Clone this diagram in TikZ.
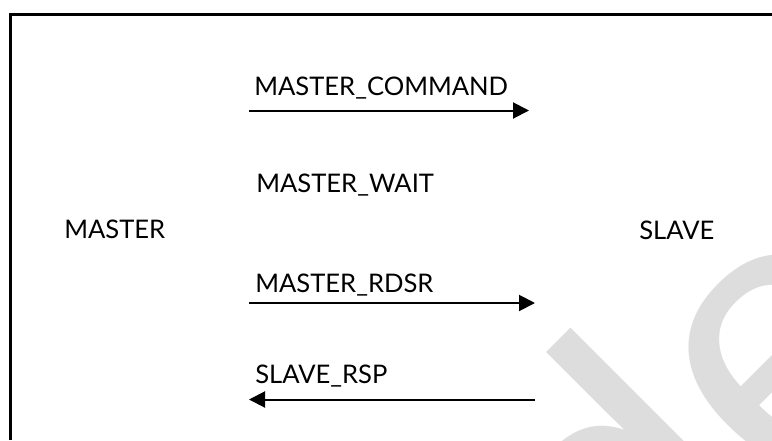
\documentclass[tikz,border=0pt]{standalone}
\usepackage{fontspec}
\setmainfont{Lato}
\newfontfamily\wmfont{Liberation Sans}
\usetikzlibrary{arrows.meta}
\definecolor{wmgray}{RGB}{221,221,221}
\tikzset{
  lbl/.style={anchor=base west, inner sep=0pt, font=\fontsize{19.2}{22}\selectfont},
  msg/.style={line width=1.5pt, -{Triangle[length=12pt,width=12pt]}},
  frame/.style={line width=2.25pt},
  wm/.style={anchor=base west, inner sep=0pt, rotate=45, text=wmgray,
    font=\wmfont\fontsize{295}{300}\selectfont},
}
\begin{document}
\begin{tikzpicture}[x=0.75pt,y=-0.75pt]
  \useasboundingbox (0,0) rectangle (772,440);
  % background watermark
  \begin{scope}
    \clip (0,0) rectangle (772,440);
    \node[wm] (mark) at (636,666) {den};
  \end{scope}
  % outer frame (open on the right and bottom)
  \draw[frame] (10,440) -- (10,14) -- (772,14);

  % participants
  \node[lbl] (master) at (64,238) {MASTER};
  \node[lbl] (slave) at (639,239) {SLAVE};

  % message labels
  \node[lbl] (cmd) at (254,95) {MASTER\_COMMAND};
  \node[lbl] (wait) at (256,192) {MASTER\_WAIT};
  \node[lbl] (rdsr) at (255,292) {MASTER\_RDSR};
  \node[lbl] (rsp) at (255,383) {SLAVE\_RSP};

  % message arrows
  \coordinate (c1s) at (249,110.5);
  \coordinate (c1e) at (529,110.5);
  \coordinate (c2s) at (249,303);
  \coordinate (c2e) at (535,303);
  \coordinate (c3s) at (535,399.5);
  \coordinate (c3e) at (249,399.5);
  \draw[msg] (c1s) -- (c1e);
  \draw[msg] (c2s) -- (c2e);
  \draw[msg] (c3s) -- (c3e);
\end{tikzpicture}
\end{document}
